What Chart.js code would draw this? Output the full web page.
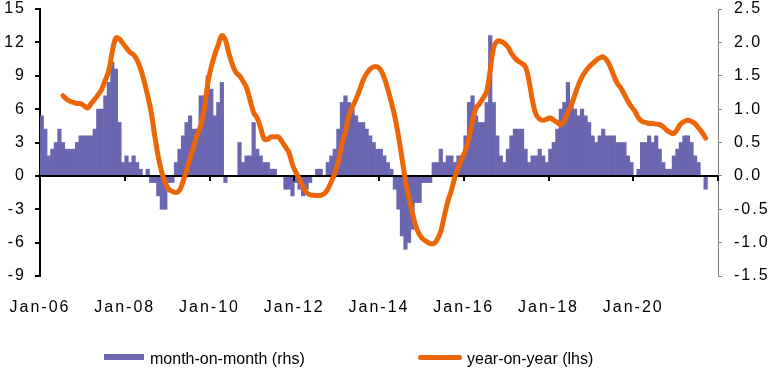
<!DOCTYPE html>
<html>
<head>
<meta charset="utf-8">
<script src="https://cdn.jsdelivr.net/npm/chart.js@4/dist/chart.umd.min.js"></script>
<style>
  html, body { margin: 0; padding: 0; background: #fff; }
  #wrap { position: relative; width: 770px; height: 369px; overflow: hidden; }
  #c { display: block; position: absolute; left: 0; top: 0; }
  .lg { position: absolute; font-family: 'Liberation Sans', Arial, sans-serif; font-size: 16px; line-height: 18px; color: #000; white-space: nowrap; }
  .sw-bar { position: absolute; background: #6a66b0; }
  .sw-line { position: absolute; background: #ec6608; border-radius: 3px; }
</style>
</head>
<body>
<div id="wrap">
  <canvas id="c" width="770" height="369"></canvas>
  <div class="sw-bar" style="left:104px; top:354px; width:40px; height:6px;"></div>
  <div class="lg" style="left:150px; top:350px;">month-on-month (rhs)</div>
  <div class="sw-line" style="left:418px; top:355px; width:44px; height:5px;"></div>
  <div class="lg" style="left:467px; top:350px;">year-on-year (lhs)</div>
</div>
<script>
// ---- data ----
const xTickLabels = ['Jan-06','Jan-08','Jan-10','Jan-12','Jan-14','Jan-16','Jan-18','Jan-20'];
const xTickMonths = [0, 24, 48, 72, 96, 120, 144, 168];
const totalMonths = 192;

// month-on-month, % (rhs), monthly from Jan-06
const monthOnMonth = [
  0.9,0.7,0.3,0.4,0.5,0.7,0.5,0.4,0.4,0.4,0.5,0.6,
  0.6,0.6,0.6,0.7,1.0,1.0,1.2,1.4,1.7,1.6,0.8,0.2,
  0.3,0.2,0.3,0.2,0.1,0.0,0.1,-0.1,-0.1,-0.3,-0.5,-0.5,
  -0.1,-0.1,0.2,0.4,0.6,0.8,0.9,0.7,0.7,1.2,1.2,1.5,
  1.3,0.9,1.1,1.4,-0.1,0,0,0,0.5,0.2,0.3,0.3,
  0.8,0.4,0.3,0.2,0.2,0.1,0.1,0,0,-0.2,-0.2,-0.3,
  -0.1,-0.2,-0.3,-0.2,-0.1,0,0.1,0.1,0,0.2,0.3,0.4,
  0.7,1.1,1.2,1.1,1.0,0.9,0.8,0.8,0.7,0.6,0.5,0.4,
  0.4,0.3,0.2,0.1,-0.2,-0.5,-0.9,-1.1,-1.0,-0.8,-0.4,-0.4,
  -0.1,-0.1,-0.1,0.2,0.2,0.4,0.2,0.3,0.3,0.2,0.3,0.3,
  0.6,1.1,1.2,0.9,0.8,0.8,1.1,2.1,1.1,0.6,0.3,0.2,
  0.4,0.6,0.7,0.7,0.7,0.4,0.2,0.3,0.3,0.4,0.3,0.2,
  0.4,0.5,0.7,1.0,1.1,1.4,1.1,1.0,0.9,1.0,0.9,0.8,
  0.6,0.5,0.6,0.7,0.6,0.6,0.6,0.5,0.5,0.5,0.3,0.2,
  0,0.1,0.5,0.5,0.6,0.5,0.6,0.4,0.2,0.1,0.1,0.3,
  0.4,0.5,0.6,0.6,0.5,0.3,0.2,0,-0.2
];

// year-on-year, % (lhs), monthly from Jul-06
const yoyStartMonth = 6;
const yearOnYear = [
  7.2,6.9,6.7,6.6,6.5,6.5,
  6.3,6.1,6.5,6.9,7.3,7.8,8.6,9.5,11.2,12.4,12.3,11.9,
  11.5,11.1,10.9,10.4,9.6,8.5,7.2,5.7,3.6,1.7,0.3,-0.6,
  -1.2,-1.4,-1.5,-1.3,-0.5,0.5,1.6,2.6,3.7,4.5,5.9,8.3,
  9.8,10.9,11.8,12.6,12.2,11.0,10.0,9.3,9.0,8.5,7.9,6.8,
  5.7,5.2,4.3,3.3,3.3,3.5,3.5,3.5,3.1,2.6,2.1,1.0,
  0.3,-0.3,-1.0,-1.5,-1.7,-1.75,-1.77,-1.75,-1.6,-1.2,-0.5,0.2,
  1.3,2.8,4.0,5.4,6.2,6.9,7.7,8.6,9.2,9.6,9.8,9.8,
  9.5,8.8,7.8,6.6,5.3,3.6,1.6,-0.4,-2.0,-3.4,-4.6,-5.3,
  -5.7,-5.9,-6.1,-6.1,-5.7,-5.0,-3.6,-2.3,-1.3,-0.1,0.8,1.6,
  2.3,3.4,5.0,6.1,6.5,7.0,7.6,9.5,11.6,12.1,12.1,11.9,
  11.6,11.0,10.6,10.3,10.1,9.8,8.5,6.7,5.5,5.1,5.0,5.1,
  5.2,5.0,4.8,4.6,5.0,5.7,6.4,7.3,8.2,8.9,9.4,9.8,
  10.1,10.4,10.6,10.7,10.4,9.8,9.0,8.3,7.9,7.3,6.7,6.2,
  5.8,5.2,4.9,4.8,4.7,4.7,4.65,4.6,4.4,4.1,3.9,3.8,
  4.2,4.7,4.9,5.0,4.9,4.7,4.3,3.9,3.4
];

// ---- build ----
const barPoints = monthOnMonth.map((v, i) => ({ x: i + 0.5, y: v }));
const linePoints = yearOnYear.map((v, i) => ({ x: yoyStartMonth + i + 0.5, y: v }));

const FONT = { family: "'Liberation Sans', Arial, sans-serif", size: 16 };

const axisDecor = {
  id: 'axisDecor',
  beforeDraw(chart) { chart.ctx.letterSpacing = '2px'; },
  afterDatasetDraw(chart, args) {
    if (args.index !== 0) return;
    const ctx = chart.ctx, a = chart.chartArea;
    const yz = chart.scales.y.getPixelForValue(0);
    const xs = chart.scales.x;
    ctx.save();
    ctx.strokeStyle = '#000';
    ctx.lineWidth = 2;
    ctx.beginPath();
    ctx.moveTo(a.left, yz);
    ctx.lineTo(a.right, yz);
    xTickMonths.concat([totalMonths]).forEach(m => {
      if (m === 0) return;
      const px = Math.round(xs.getPixelForValue(m));
      ctx.moveTo(px, yz);
      ctx.lineTo(px, yz + 5);
    });
    ctx.stroke();
    ctx.restore();
  },
  afterDraw(chart) { chart.ctx.letterSpacing = '0px'; }
};

new Chart(document.getElementById('c'), {
  type: 'bar',
  data: {
    datasets: [
      {
        type: 'bar',
        label: 'month-on-month (rhs)',
        data: barPoints,
        yAxisID: 'y1',
        xAxisID: 'x',
        backgroundColor: '#6a66b0',
        borderWidth: 0,
        barPercentage: 1,
        categoryPercentage: 1,
        order: 2
      },
      {
        type: 'line',
        label: 'year-on-year (lhs)',
        data: linePoints,
        yAxisID: 'y',
        xAxisID: 'x',
        borderColor: '#ec6608',
        borderWidth: 5,
        pointRadius: 0,
        tension: 0.4,
        fill: false,
        borderCapStyle: 'round',
        borderJoinStyle: 'round',
        order: 1
      }
    ]
  },
  options: {
    responsive: false,
    animation: false,
    layout: { padding: { left: 0, right: 0, top: 9, bottom: 54 } },
    plugins: { legend: { display: false }, tooltip: { enabled: false } },
    scales: {
      x: {
        type: 'linear',
        min: 0,
        max: totalMonths,
        offset: false,
        position: 'bottom',
        grid: { display: false, drawTicks: false, offset: false },
        border: { display: false },
        afterBuildTicks: (s) => { s.ticks = xTickMonths.map(v => ({ value: v })); },
        afterFit: (s) => { s.height = 39; s.paddingLeft = 0; s.paddingRight = 0; },
        ticks: {
          autoSkip: false,
          maxRotation: 0,
          padding: 22,
          color: '#000',
          font: FONT,
          callback: (v) => { const k = xTickMonths.indexOf(v); return k >= 0 ? xTickLabels[k] : ''; }
        }
      },
      y: {
        position: 'left',
        min: -9,
        max: 15,
        afterFit: (s) => { s.width = 40; s.paddingTop = 0; s.paddingBottom = 0; },
        ticks: { stepSize: 3, padding: 9, color: '#000', font: FONT },
        grid: { drawOnChartArea: false, drawTicks: true, tickLength: 5, color: '#000', lineWidth: 2 },
        border: { display: true, color: '#000', width: 2 }
      },
      y1: {
        position: 'right',
        min: -1.5,
        max: 2.5,
        afterFit: (s) => { s.width = 52; s.paddingTop = 0; s.paddingBottom = 0; },
        ticks: { stepSize: 0.5, padding: 12, color: '#000', font: FONT, callback: (v) => Number(v).toFixed(1) },
        grid: { drawOnChartArea: false, drawTicks: true, tickLength: 4, color: '#7f7f7f', lineWidth: 1 },
        border: { display: true, color: '#7f7f7f', width: 1 }
      }
    }
  },
  plugins: [axisDecor]
});
</script>
</body>
</html>
